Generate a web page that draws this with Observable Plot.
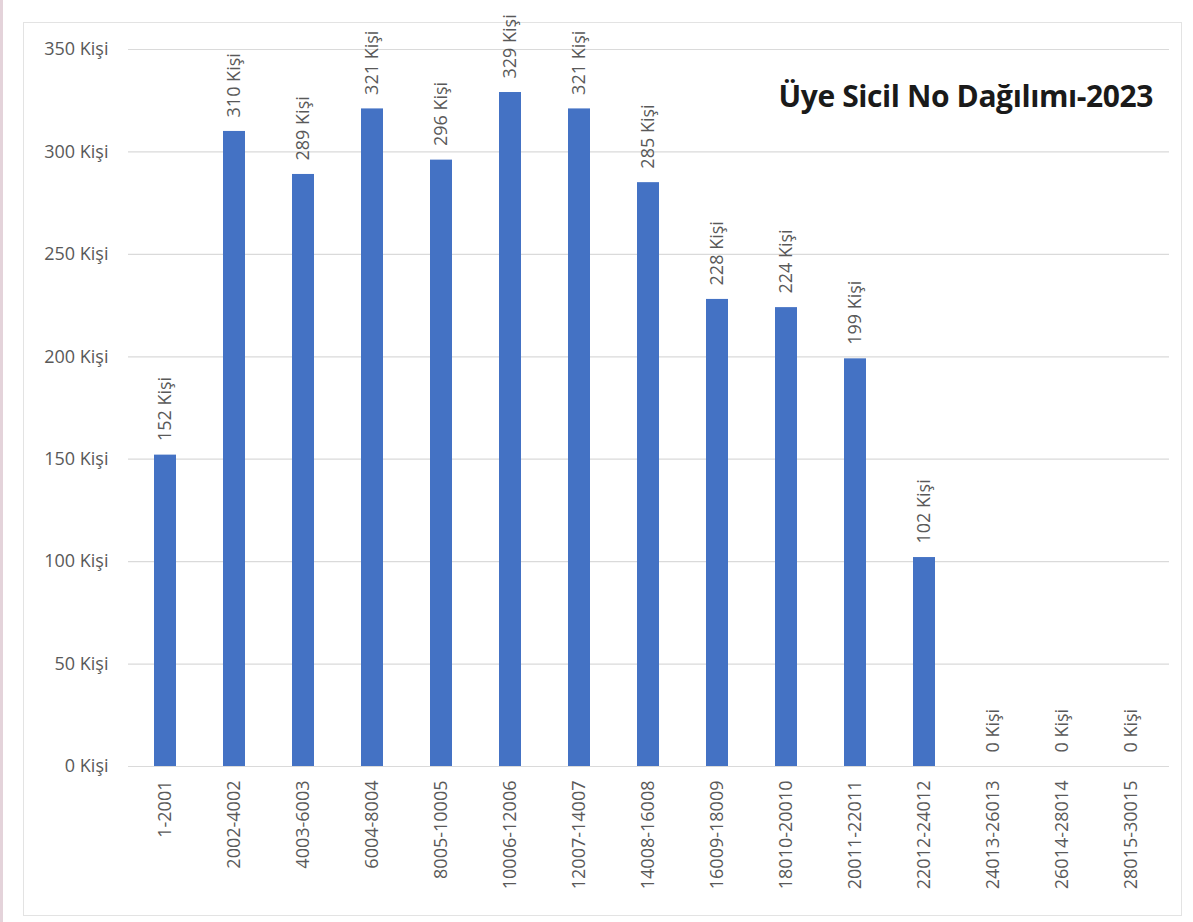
<!DOCTYPE html>
<html>
<head>
<meta charset="utf-8">
<script src="https://cdn.jsdelivr.net/npm/d3@7"></script>
<script src="https://cdn.jsdelivr.net/npm/@observablehq/plot@0.6"></script>
<style>
  body { margin: 0; background: #fff; width: 1193px; height: 922px; position: relative; overflow: hidden; font-family: "Open Sans", sans-serif; }
  #strip { position: absolute; left: 0; top: 0; width: 3px; height: 922px; background: #e4d3da; }
  #frame { position: absolute; left: 23px; top: 22px; width: 1159px; height: 894px; border: 1.5px solid #e3e3e3; box-sizing: border-box; }
  #chart { position: absolute; left: 0; top: 0; }
  #title { position: absolute; right: 40px; top: 75px; font-family: "Open Sans", sans-serif; font-weight: 700; font-size: 30px; color: #1a1a1a; letter-spacing: -0.4px; }
</style>
</head>
<body>
<div id="strip"></div>
<div id="frame"></div>
<div id="chart"></div>
<div id="title">Üye Sicil No Dağılımı-2023</div>
<script>
const categories = ["1-2001","2002-4002","4003-6003","6004-8004","8005-10005","10006-12006","12007-14007","14008-16008","16009-18009","18010-20010","20011-22011","22012-24012","24013-26013","26014-28014","28015-30015"];
const values = [152, 310, 289, 321, 296, 329, 321, 285, 228, 224, 199, 102, 0, 0, 0];
const yTicks = [0, 50, 100, 150, 200, 250, 300, 350];
const unit = " Kişi";

const data = categories.map((c, i) => ({category: c, value: values[i]}));

const chart = Plot.plot({
  width: 1193,
  height: 922,
  marginLeft: 128,
  marginRight: 24,
  marginTop: 49,
  marginBottom: 156,
  style: {fontFamily: "Open Sans, sans-serif", fontSize: "18px", color: "#595959", background: "transparent", overflow: "visible"},
  x: {domain: categories, paddingInner: 0.68, paddingOuter: 0.34, label: null},
  y: {domain: [0, 350], label: null},
  marks: [
    Plot.ruleY(yTicks, {stroke: "#dadada", strokeWidth: 1.2}),
    Plot.axisY({ticks: yTicks, tickSize: 0, tickPadding: 20, tickFormat: d => d + unit, fontSize: 18, label: null}),
    Plot.axisX({tickSize: 0, tickPadding: 14, tickRotate: -90, fontSize: 18, label: null}),
    Plot.barY(data, {x: "category", y: "value", fill: "#4472c4"}),
    Plot.text(data, {x: "category", y: "value", text: d => d.value + unit, rotate: -90, textAnchor: "start", lineAnchor: "middle", dy: -14, fontSize: 18, fill: "#595959"})
  ]
});
document.getElementById("chart").appendChild(chart);
</script>
</body>
</html>
